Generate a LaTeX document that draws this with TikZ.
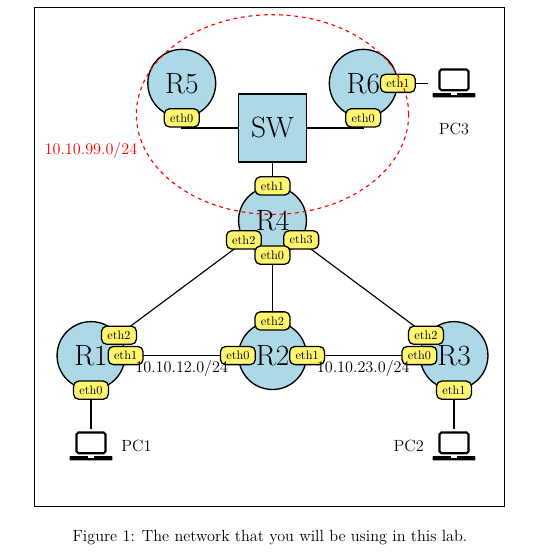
\documentclass[tikz,border=0pt]{standalone}
\usepackage{tikz}
\usetikzlibrary{calc}
\definecolor{routerblue}{RGB}{173,216,230}
\definecolor{ethyellow}{RGB}{255,245,110}
\tikzset{
	router/.style={shape=circle,draw,fill=routerblue,line width=1.05pt,minimum size=1.87cm,inner sep=0pt,font=\fontsize{23}{23}\selectfont},
	switchbox/.style={shape=rectangle,draw,fill=routerblue,line width=1.05pt,minimum size=1.87cm,inner sep=0pt,font=\fontsize{23}{23}\selectfont},
	eth/.style={shape=rectangle,rounded corners=4pt,draw,fill=ethyellow,line width=1pt,minimum width=0.96cm,minimum height=0.5cm,inner sep=0pt,font=\fontsize{9.6}{11}\selectfont},
	link/.style={line width=0.9pt},
	pclabel/.style={font=\fontsize{12.7}{15}\selectfont},
}
\newcommand{\drawlaptop}[2]{
	\node (#2) [shape=rectangle,minimum width=1.43cm,minimum height=0.94cm,inner sep=0pt] at #1 {};
	\draw [line width=1.7pt,rounded corners=1.5pt] (#2) ++(-0.4,-0.19) rectangle ++(0.8,0.57);
	\fill [rounded corners=0.6pt] (#2) ++(-0.59,-0.39) rectangle ++(1.18,0.12);
	\fill [white] (#2) ++(-0.07,-0.31) rectangle ++(0.14,0.03);
}
\begin{document}
\begin{tikzpicture}
	\useasboundingbox (-2.507,-5.467) rectangle (12.837,9.795);
	\draw [line width=0.7pt] (-1.57,-4.15) rectangle (11.38,9.59);
	% routers and switch
	\node (R1) [router] at (0,0) {R1};
	\node (R2) [router] at (5,0) {R2};
	\node (R3) [router] at (10,0) {R3};
	\node (R4) [router] at (5,3.72) {R4};
	\node (R5) [router] at (2.5,7.5) {R5};
	\node (R6) [router] at (7.5,7.5) {R6};
	\node (SW) [switchbox] at (5,6.27) {SW};
	\drawlaptop{(0,-2.5)}{PC1};
	\drawlaptop{(10,-2.5)}{PC2};
	\drawlaptop{(10,7.5)}{PC3};
	% links
	\draw [link] (R1) -- (R2);
	\draw [link] (R2) -- (R3);
	\draw [link] (R1) -- (R4);
	\draw [link] (R3) -- (R4);
	\draw [link] (R2) -- (R4);
	\draw [link] (SW) -- (R4);
	% interfaces
	\foreach \r / \a / \n / \l in {R1/36/a/eth2,R1/0/b/eth1,R1/270/c/eth0,R2/90/a/eth2,R2/180/b/eth0,R2/0/c/eth1,R3/144/a/eth2,R3/180/b/eth0,R3/270/c/eth1,R4/90/a/eth1,R4/214/b/eth2,R4/326/c/eth3,R4/270/d/eth0,R5/270/a/eth0,R6/270/a/eth0,R6/0/b/eth1} {
		\node (\r\n) [eth] at (\r.\a) {\l};
	}
	\draw [link] (R5a) |- (SW);
	\draw [link] (R6a) |- (SW);
	\draw [link] (R1c) -- (PC1);
	\draw [link] (R3c) -- (PC2);
	\draw [link] (R6b) -- (PC3);
	% texts
	\node (pc1label) [pclabel] at (1.25,-2.5) {PC1};
	\node (pc2label) [pclabel] at (8.75,-2.5) {PC2};
	\node (pc3label) [pclabel] at (10,6.25) {PC3};
	\node (net12) [pclabel] at (2.5,-0.36) {10.10.12.0/24};
	\node (net23) [pclabel] at (7.5,-0.36) {10.10.23.0/24};
	\node (net99) [pclabel,text=red] at (0,5.65) {10.10.99.0/24};
	\draw [red,dashed,line width=0.9pt] (5,6.64) ellipse (3.75cm and 2.75cm);
	\node (caption) [pclabel] at (4.93,-5.02) {Figure 1: The network that you will be using in this lab.};
\end{tikzpicture}
\end{document}
